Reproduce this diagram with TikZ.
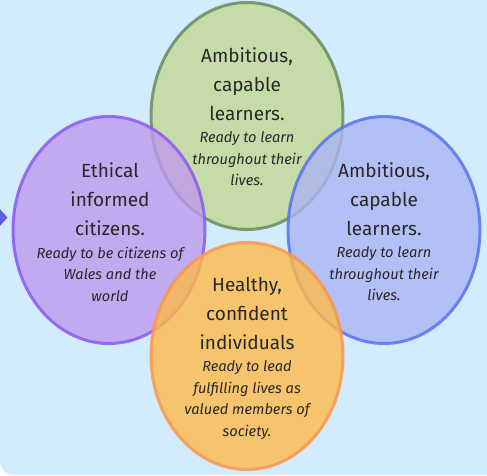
\documentclass[tikz,border=0pt]{standalone}
\usepackage{fontspec}
\setmainfont{Fira Sans}
\usetikzlibrary{shapes.geometric}
\definecolor{bgblue}{RGB}{210,236,253}
\definecolor{trifill}{RGB}{92,92,230}
\definecolor{gfill}{RGB}{194,217,149}
\definecolor{gline}{RGB}{105,140,95}
\definecolor{pfill}{RGB}{191,154,237}
\definecolor{pline}{RGB}{140,90,240}
\definecolor{bfill}{RGB}{172,181,243}
\definecolor{bline}{RGB}{90,115,240}
\definecolor{ofill}{RGB}{255,186,74}
\definecolor{oline}{RGB}{250,150,80}
\definecolor{txt}{RGB}{40,40,40}
\tikzset{
  blob/.style={ellipse, inner sep=0pt, minimum width=192pt, minimum height=227pt,
    line width=3pt, fill opacity=0.8, draw opacity=0.85},
  title/.style={align=center, inner sep=0pt, text=txt, font=\fontsize{19}{29}\selectfont},
  sub/.style={align=center, inner sep=0pt, text=txt, font=\fontsize{14.6}{21.5}\selectfont\itshape}
}
\begin{document}
\begin{tikzpicture}[x=1pt,y=-1pt]
\useasboundingbox (0,0) rectangle (487,475);
\fill[white] (0,0) rectangle (487,475);
\fill[bgblue, rounded corners=14pt] (0,-30) rectangle (517,475);
\fill[trifill] (-2,207) -- (7.5,217.5) -- (-2,228) -- cycle;

\node[blob, fill=gfill, draw=gline] (green) at (247,116) {};
\node[blob, fill=pfill, draw=pline] (purple) at (109,230) {};
\node[blob, fill=bfill, draw=bline] (blue) at (384,230) {};
\node[blob, fill=ofill, draw=oline] (orange) at (247,356) {};

\node[title] (gt) at (247,84) {Ambitious,\\capable\\learners.};
\node[sub] (gs) at (247,159) {Ready to learn\\throughout their\\lives.};

\node[title] (pt) at (110,199) {Ethical\\informed\\citizens.};
\node[sub] (ps) at (110,274) {Ready to be citizens of\\Wales and the\\world};

\node[title] (bt) at (384,199) {Ambitious,\\capable\\learners.};
\node[sub] (bs) at (384,274) {Ready to learn\\throughout their\\lives.};

\node[title] (ot) at (247,313) {Healthy,\\confident\\individuals};
\node[sub] (os) at (247,400) {Ready to lead\\fulfilling lives as\\valued members of\\society.};
\end{tikzpicture}
\end{document}
